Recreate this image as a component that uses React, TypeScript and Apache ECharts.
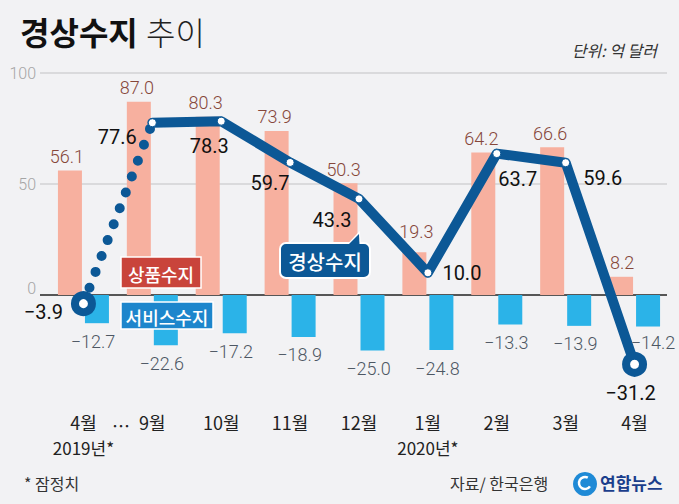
import React, { useEffect, useRef } from "react";
import * as echarts from "echarts";

const months = ["4월", "9월", "10월", "11월", "12월", "1월", "2월", "3월", "4월"];
const yearNotes = ["2019년*", "", "", "", "", "2020년*", "", "", ""];
const goods = [56.1, 87.0, 80.3, 73.9, 50.3, 19.3, 64.2, 66.6, 8.2];
const services = [-12.7, -22.6, -17.2, -18.9, -25.0, -24.8, -13.3, -13.9, -14.2];
const current = [-3.9, 77.6, 78.3, 59.7, 43.3, 10.0, 63.7, 59.6, -31.2];
const yTicks = [0, 50, 100];

// label offsets (styling) for the current-account line labels
const currentLabelOffsets: [number, number][] = [
  [-40, 8], [-35, 14], [-12, 25], [-20, 21], [-27, 21], [34, 0], [21, 25], [37, 15], [-4, 29],
];
// label offsets (styling) for the goods bar labels
const goodsLabelOffsets: [number, number][] = [
  [-3, 0], [-2, 0], [-2, 0], [-2, 0], [-2, 0], [2, -7], [-2, 0], [-2, 0], [1, 0],
];
// label offsets (styling) for the services bar labels
const servicesLabelOffsets: [number, number][] = [
  [-4, 0], [-4, 0], [-4, 0], [-4, 0], [-4, 0], [-4, 0], [-4, 0], [-4, 0], [5, -2],
];

const BLUE = "#0c5896";
const KR = "'Noto Sans CJK KR', sans-serif";
const NUM = "Roboto, 'Liberation Sans', sans-serif";

const fmt = (v: number) => v.toFixed(1).replace("-", "\u2212");

const ring = {
  symbol: "circle",
  symbolSize: 17,
  itemStyle: { color: "#fff", borderColor: BLUE, borderWidth: 8 },
};

const TOP_Z = 100;

export default function App() {
  const ref = useRef<HTMLDivElement>(null);
  useEffect(() => {
    if (!ref.current) return;
    const chart = echarts.init(ref.current, undefined, { renderer: "svg" });

    const lineLabel = (i: number) => ({
      show: true,
      position: "inside",
      offset: currentLabelOffsets[i],
      formatter: () => fmt(current[i]),
      fontFamily: NUM,
      fontSize: 20,
      fontWeight: 400,
      color: "#111",
    });

    const dotted = current.map((v, i) => {
      if (i === 0) return { value: v, ...ring, label: lineLabel(i) };
      if (i === 1) return { value: v, symbol: "none", label: { show: false } };
      return "-";
    });
    const solid = current.map((v, i) => {
      if (i === 0) return "-";
      if (i === current.length - 1) return { value: v, ...ring, label: lineLabel(i) };
      return {
        value: v,
        symbol: "circle",
        symbolSize: 8,
        itemStyle: { color: "#fff", borderColor: BLUE, borderWidth: 1 },
        label: lineLabel(i),
      };
    });

    const tag = (x: number, y: number, w: number, h: number, text: string, fill: string, fontSize: number) => [
      { type: "rect", z: TOP_Z, shape: { x, y, width: w, height: h }, style: { fill, stroke: "#fff", lineWidth: 1.5 } },
      {
        type: "text",
        z: TOP_Z + 1,
        x: x + w / 2,
        y: y + h / 2 + 1,
        style: { text, font: `500 ${fontSize}px ${KR}`, fill: "#fff", textAlign: "center", textVerticalAlign: "middle" },
      },
    ];

    const option: any = {
      animation: false,
      backgroundColor: "#f2f2f4",
      grid: [
        { left: 40, right: 12, top: 73, bottom: 98 },
        { left: 49, right: 10, top: 73, bottom: 98 },
      ],
      xAxis: [
        { type: "value", gridIndex: 0, min: 0, max: 1, show: false },
        {
          type: "category",
          gridIndex: 1,
          data: months,
          axisLine: { show: false },
          axisTick: { show: false },
          axisLabel: { interval: 0, margin: 7, fontFamily: KR, fontSize: 18, color: "#222" },
        },
        {
          type: "category",
          gridIndex: 1,
          position: "bottom",
          offset: 26,
          data: yearNotes,
          axisLine: { show: false },
          axisTick: { show: false },
          axisLabel: { interval: 0, margin: 7, fontFamily: KR, fontSize: 17, color: "#222" },
        },
      ],
      yAxis: [
        {
          type: "value",
          gridIndex: 0,
          min: -50,
          max: 100,
          interval: 50,
          axisLine: { show: false },
          axisTick: { show: false },
          axisLabel: {
            formatter: (v: number) => (yTicks.includes(v) ? (v === 0 ? "{z|0}" : String(v)) : ""),
            fontFamily: NUM,
            fontSize: 16,
            fontWeight: 300,
            color: "#a5a5a5",
            margin: 4,
            rich: {
              z: { fontFamily: NUM, fontSize: 16, fontWeight: 300, color: "#a5a5a5", padding: [0, 0, 14, 0] },
            },
          },
          splitLine: {
            show: true,
            lineStyle: { color: ["rgba(0,0,0,0)", "#222", "#d2d2d4", "#d2d2d4"], width: 1.5 },
          },
        },
        { type: "value", gridIndex: 1, min: -50, max: 100, interval: 50, show: false },
      ],
      series: [
        {
          type: "bar",
          xAxisIndex: 1,
          yAxisIndex: 1,
          data: goods.map((v, i) => ({ value: v, label: { offset: goodsLabelOffsets[i] } })),
          barWidth: 24,
          barGap: "12.5%",
          itemStyle: { color: "#f7b09f" },
          label: {
            show: true,
            position: "top",
            distance: 5,
            formatter: (p: any) => fmt(p.value),
            fontFamily: NUM,
            fontSize: 18,
            fontWeight: 300,
            color: "#86473a",
          },
        },
        {
          type: "bar",
          xAxisIndex: 1,
          yAxisIndex: 1,
          data: services.map((v, i) => ({ value: v, label: { offset: servicesLabelOffsets[i] } })),
          barWidth: 24,
          barGap: "12.5%",
          itemStyle: { color: "#2bb3e8" },
          label: {
            show: true,
            position: "bottom",
            distance: 9,
            formatter: (p: any) => fmt(p.value),
            fontFamily: NUM,
            fontSize: 18,
            fontWeight: 300,
            color: "#4d5763",
          },
        },
        {
          type: "line",
          xAxisIndex: 1,
          yAxisIndex: 1,
          data: dotted,
          z: 5,
          lineStyle: { color: BLUE, width: 10, type: [0, 17], cap: "round" },
          connectNulls: false,
        },
        {
          type: "line",
          xAxisIndex: 1,
          yAxisIndex: 1,
          data: solid,
          z: 6,
          lineStyle: { color: BLUE, width: 10, join: "round", cap: "round" },
        },
      ],
      graphic: [
        {
          type: "text",
          left: 20,
          top: 15,
          style: { text: "경상수지", font: `bold 32px ${KR}`, fill: "#111" },
        },
        {
          type: "text",
          left: 146,
          top: 15,
          style: { text: "추이", font: `300 32px ${KR}`, fill: "#222" },
        },
        {
          type: "text",
          right: 22,
          top: 42,
          style: { text: "단위: 억 달러", font: `italic 16px ${KR}`, fill: "#333" },
        },
        {
          type: "text",
          x: 121,
          y: 425,
          style: { text: "…", font: `18px ${KR}`, fill: "#222", textAlign: "center", textVerticalAlign: "middle" },
        },
        ...tag(121, 257, 80, 31, "상품수지", "#c9443b", 18),
        ...tag(121, 302, 92, 27, "서비스수지", "#1d86cc", 18),
        // 경상수지 callout
        { type: "polygon", z: TOP_Z, shape: { points: [[348, 245], [359, 233], [360, 245]] }, style: { fill: BLUE, stroke: "#fff", lineWidth: 2 } },
        { type: "rect", z: TOP_Z, shape: { x: 280, y: 243, width: 90, height: 35, r: 6 }, style: { fill: BLUE, stroke: "#fff", lineWidth: 2 } },
        { type: "polygon", z: TOP_Z + 1, shape: { points: [[348, 245], [359, 234], [359.5, 245]] }, style: { fill: BLUE } },
        {
          type: "text",
          z: TOP_Z + 2,
          x: 325,
          y: 261,
          style: { text: "경상수지", font: `500 20px ${KR}`, fill: "#fff", textAlign: "center", textVerticalAlign: "middle" },
        },
        // footer
        {
          type: "text",
          left: 24,
          top: 475,
          style: { text: "* 잠정치", font: `16px ${KR}`, fill: "#333" },
        },
        {
          type: "text",
          left: 450,
          top: 475,
          style: { text: "자료/ 한국은행", font: `16px ${KR}`, fill: "#333" },
        },
        { type: "circle", shape: { cx: 585, cy: 484, r: 12 }, style: { fill: "#1f8ad6" } },
        { type: "arc", shape: { cx: 585, cy: 483, r: 6, startAngle: 0.6, endAngle: 5.2 }, style: { stroke: "#fff", lineWidth: 2.5, fill: "none" } },
        {
          type: "text",
          left: 600,
          top: 474,
          style: { text: "연합뉴스", font: `bold 17px ${KR}`, fill: "#1b3e8c" },
        },
      ],
    };
    chart.setOption(option);
    return () => chart.dispose();
  }, []);
  return (
    <div
      ref={ref}
      style={{ position: "absolute", left: 0, top: 0, width: 679, height: 504 }}
    />
  );
}
